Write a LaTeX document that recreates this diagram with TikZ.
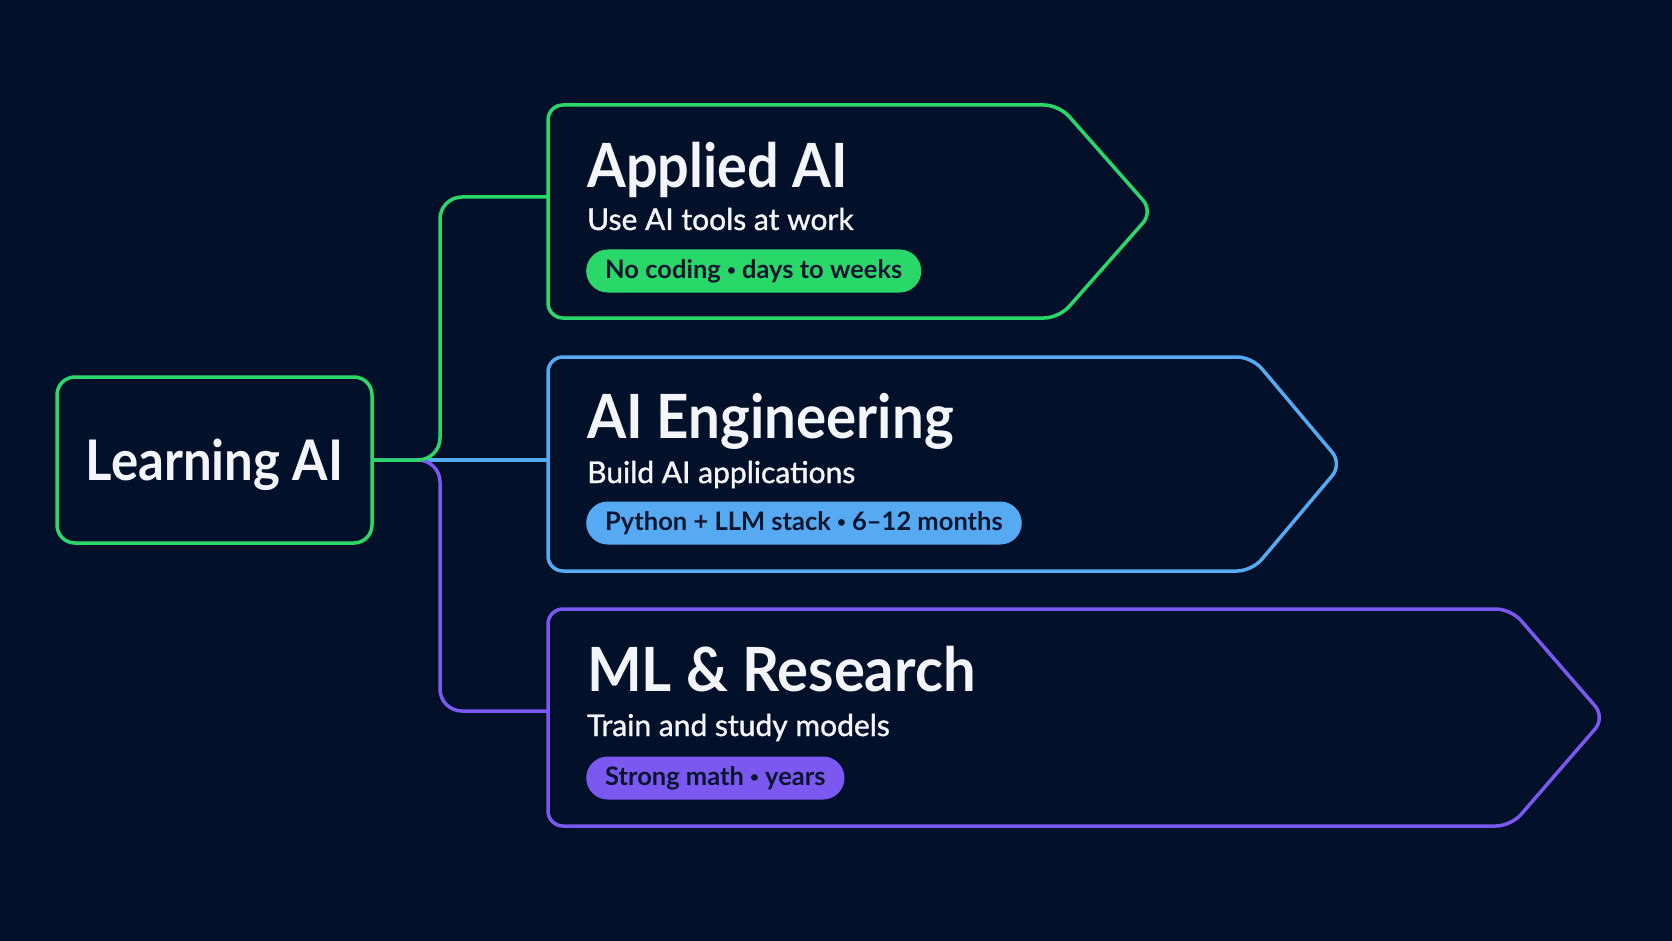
\documentclass[tikz,border=0pt]{standalone}
\usepackage{fontspec}
\setmainfont{Lato}
\newfontfamily\medfont{Lato}[FakeBold=1.2]
\usetikzlibrary{calc}
\definecolor{bg}{HTML}{03102A}
\definecolor{cgreen}{HTML}{2AD86A}
\definecolor{cblue}{HTML}{56AAF1}
\definecolor{cpurple}{HTML}{7B58EF}
\definecolor{pilltext}{HTML}{0A1530}
\definecolor{txt}{HTML}{F4F5F8}
\newcommand\narrow[2]{\scalebox{#1}[1]{#2}}
\newcommand\dotsep{\raisebox{0.12em}{\scalebox{0.6}{•}}}
\begin{document}
\begin{tikzpicture}[x=1pt,y=-1pt,
  frame/.style={line width=3.5pt, rounded corners=15pt},
  link/.style={line width=3.5pt, rounded corners=22pt},
  area/.style={inner sep=0pt, outer sep=0pt, anchor=north west, minimum width=#1},
  titletext/.style={anchor=base west, inner sep=0pt, text=txt, font=\bfseries\fontsize{61}{61}\selectfont},
  subtext/.style={anchor=base west, inner sep=0pt, text=txt, font=\medfont\fontsize{30}{30}\selectfont},
  pill/.style={anchor=west, inner xsep=19pt, inner ysep=0pt, minimum height=43pt, rounded corners=21.5pt, text=pilltext, font=\bfseries\fontsize{25.5}{25.5}\selectfont}
]
\fill[bg] (0,0) rectangle (1672,941);
\useasboundingbox (0,0) rectangle (1672,941);

% root
\node[draw=cgreen, line width=3.5pt, rounded corners=18pt, minimum width=315pt, minimum height=166pt,
      text=txt, font=\bfseries\fontsize{56}{56}\selectfont, text height=40pt, text depth=0pt] (learn) at (214.5,460) {\narrow{0.91}{Learning AI}};

% box areas
\node[area=511pt, minimum height=213pt] (applied) at (548,105) {};
\node[area=704pt, minimum height=214pt] (eng) at (548,357) {};
\node[area=963pt, minimum height=217pt] (ml) at (548,609) {};

\draw[frame, cgreen] (applied.north west) -- (applied.north east) -- ($(applied.east)+(94,0)$) -- (applied.south east) -- (applied.south west) -- cycle;
\draw[frame, cblue] (eng.north west) -- (eng.north east) -- ($(eng.east)+(90,0)$) -- (eng.south east) -- (eng.south west) -- cycle;
\draw[frame, cpurple] (ml.north west) -- (ml.north east) -- ($(ml.east)+(94,0)$) -- (ml.south east) -- (ml.south west) -- cycle;

% connectors
\coordinate (tk) at (440,0);
\coordinate (ain) at (548,197);
\coordinate (min) at (548,711);
\draw[link, cblue] (learn.east) -- (learn.east -| eng.west);
\draw[link, cpurple] (learn.east) -- (learn.east -| tk) -- (min -| tk) -- (min);
\draw[link, cgreen] (learn.east) -- (learn.east -| tk) -- (ain -| tk) -- (ain);

% texts
\node[titletext] (applied-t) at (587,188) {\narrow{0.915}{Applied AI}};
\node[subtext] (applied-s) at (587,230) {Use AI tools at work};
\node[pill, fill=cgreen] (applied-p) at (586,271) {No coding \dotsep{} days to weeks};

\node[titletext] (eng-t) at (587,438) {\narrow{0.925}{AI Engineering}};
\node[subtext] (eng-s) at (587,483) {Build AI applications};
\node[pill, fill=cblue] (eng-p) at (586,523) {Python + LLM stack \dotsep{} 6–12 months};

\node[titletext] (ml-t) at (587,691) {\narrow{0.95}{ML \& Research}};
\node[subtext] (ml-s) at (587,736) {Train and study models};
\node[pill, fill=cpurple] (ml-p) at (586,778) {Strong math \dotsep{} years};
\end{tikzpicture}
\end{document}
